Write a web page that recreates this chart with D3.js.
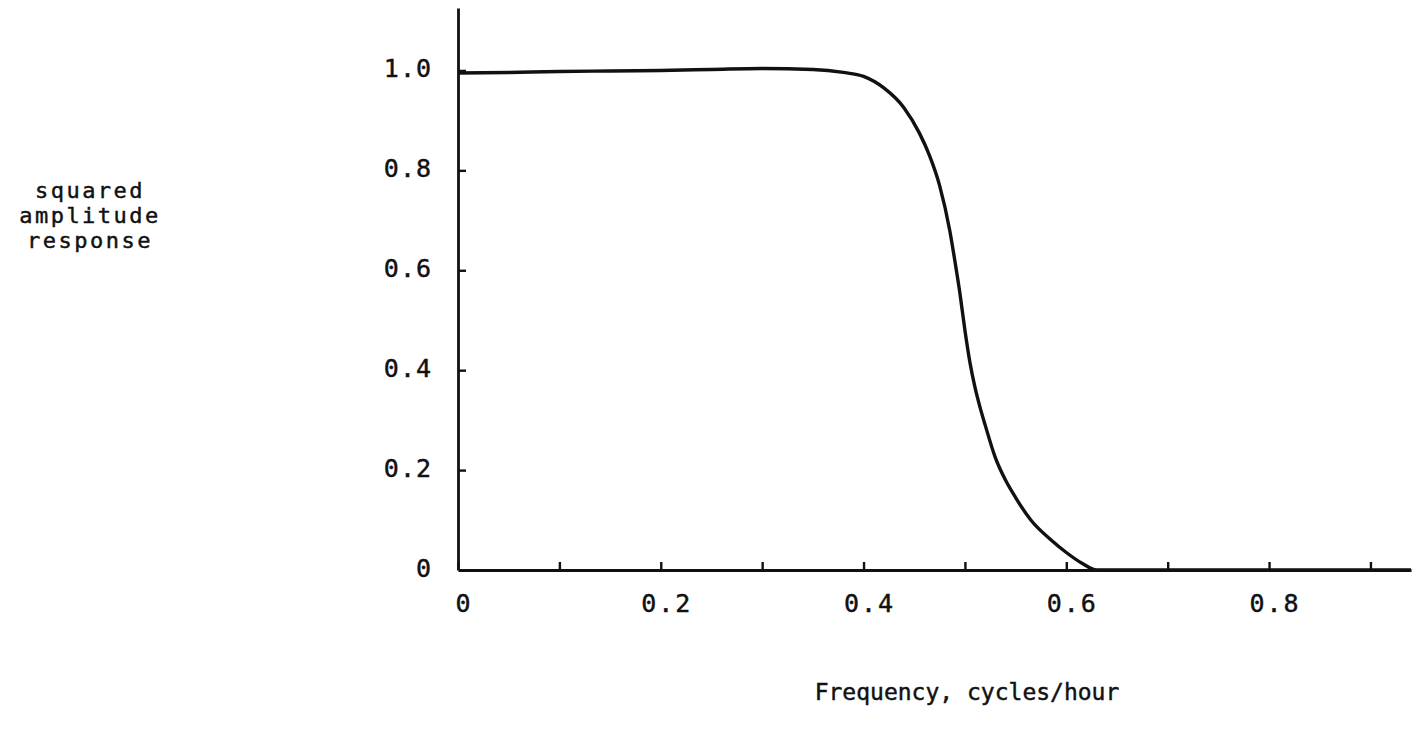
<!DOCTYPE html>
<html>
<head>
<meta charset="utf-8">
<script src="https://cdn.jsdelivr.net/npm/d3@7"></script>
<style>
  html, body { margin: 0; padding: 0; background: #fff; }
  text { font-family: "DejaVu Sans Mono", "Liberation Mono", monospace; fill: #111; stroke: #111; stroke-width: 0.45px; }
</style>
</head>
<body>
<div id="vis-display"></div>
<script>
// Squared amplitude response of a low-pass filter.

const FREQ = [0, 0.05, 0.1, 0.15, 0.2, 0.25, 0.3, 0.35, 0.38, 0.40, 0.42, 0.44, 0.455, 0.465, 0.475,
              0.485, 0.49, 0.495, 0.50, 0.505, 0.51, 0.515, 0.52, 0.53, 0.54, 0.55, 0.565, 0.585,
              0.60, 0.615, 0.63, 0.7, 0.8, 0.94];
const RESPONSE = [0.995, 0.996, 0.998, 0.999, 1.0, 1.002, 1.004, 1.002, 0.996, 0.988, 0.965, 0.925, 0.875, 0.83, 0.77,
                  0.68, 0.62, 0.555, 0.48, 0.415, 0.365, 0.325, 0.29, 0.225, 0.18, 0.145, 0.10, 0.06,
                  0.035, 0.014, 0.0, 0, 0, 0];

const X_TICKS  = [0, 0.1, 0.2, 0.3, 0.4, 0.5, 0.6, 0.7, 0.8, 0.9];
const X_LABELS = [0, 0.2, 0.4, 0.6, 0.8];
const Y_TICKS  = [0, 0.2, 0.4, 0.6, 0.8, 1.0];

const Y_TITLE = ["squared", "amplitude", "response"];
const X_TITLE = "Frequency, cycles/hour";

const W = 1412, H = 736;

const svg = d3.select("#vis-display").append("svg")
  .attr("width", W)
  .attr("height", H);

const x = d3.scaleLinear().domain([0, 0.94]).range([458, 1411]);
const y = d3.scaleLinear().domain([0, 1.125]).range([570, 8]);

// ── Axes ──────────────────────────────────────────────────────────────────

const xAxis = svg.append("g")
  .attr("transform", `translate(0,${y(0)})`)
  .call(d3.axisTop(x).tickValues(X_TICKS).tickSize(8).tickSizeOuter(0).tickFormat(""));

const yAxis = svg.append("g")
  .attr("transform", `translate(${x(0)},0)`)
  .call(d3.axisRight(y).tickValues(Y_TICKS.filter(d => d > 0)).tickSize(8).tickSizeOuter(0).tickFormat(""));

[xAxis, yAxis].forEach(g => {
  g.select(".domain").attr("stroke", "#111").attr("stroke-width", 2.8);
  g.selectAll(".tick line").attr("stroke", "#111").attr("stroke-width", 2.4);
});

// tick labels
svg.append("g")
  .selectAll("text")
  .data(X_LABELS)
  .join("text")
    .attr("x", d => x(d) + 6)
    .attr("y", y(0) + 35)
    .attr("text-anchor", "middle")
    .attr("dominant-baseline", "middle")
    .style("font-size", "25px")
    .style("letter-spacing", "2px")
    .text(d => d === 0 ? "0" : d3.format(".1f")(d));

svg.append("g")
  .selectAll("text")
  .data(Y_TICKS)
  .join("text")
    .attr("x", x(0) - 26)
    .attr("y", d => y(d))
    .attr("text-anchor", "end")
    .attr("dominant-baseline", "middle")
    .style("font-size", "25px")
    .style("letter-spacing", "1px")
    .text(d => d === 0 ? "0" : d3.format(".1f")(d));

// ── Curve ─────────────────────────────────────────────────────────────────

const pts = FREQ.map((f, i) => [f, RESPONSE[i]]);

svg.append("path")
  .datum(pts)
  .attr("fill", "none")
  .attr("stroke", "#111")
  .attr("stroke-width", 3.4)
  .attr("stroke-linejoin", "round")
  .attr("d", d3.line()
    .x(d => x(d[0]))
    .y(d => y(d[1]))
    .curve(d3.curveMonotoneX));

// ── Titles ────────────────────────────────────────────────────────────────

svg.append("text")
  .attr("y", 190)
  .attr("text-anchor", "middle")
  .style("font-size", "22px")
  .style("letter-spacing", "2.5px")
  .selectAll("tspan")
  .data(Y_TITLE)
  .join("tspan")
    .attr("x", 90)
    .attr("dy", (d, i) => i === 0 ? "0.35em" : "25px")
    .text(d => d);

svg.append("text")
  .attr("x", 967)
  .attr("y", 693)
  .attr("text-anchor", "middle")
  .attr("dominant-baseline", "middle")
  .style("font-size", "23px")
  .text(X_TITLE);
</script>
</body>
</html>
